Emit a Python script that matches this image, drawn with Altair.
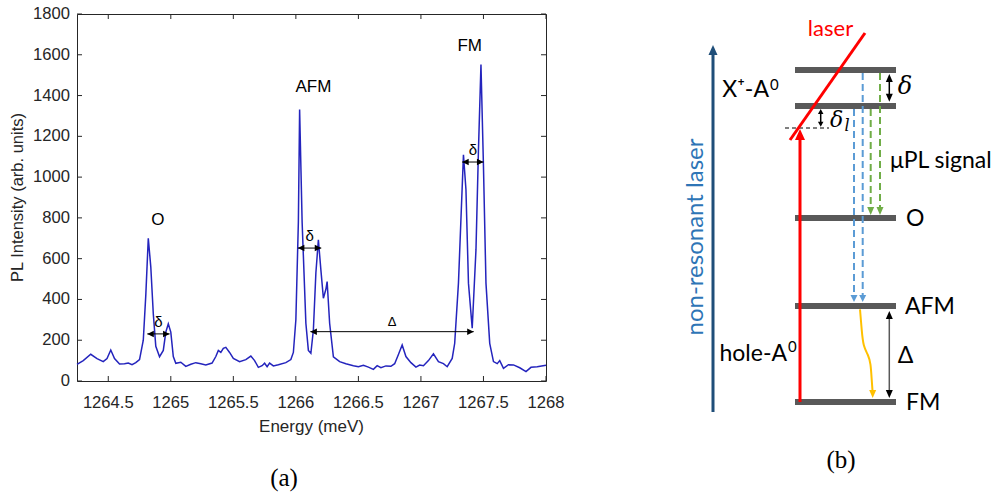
import altair as alt
import pandas as pd

# ---------------- Panel (a): PL spectrum ----------------
ENERGY = [1264.25, 1264.30, 1264.36, 1264.41, 1264.46, 1264.49, 1264.52, 1264.55, 1264.59, 1264.63,
          1264.66, 1264.69, 1264.72, 1264.75, 1264.78, 1264.80, 1264.82, 1264.84, 1264.86, 1264.88,
          1264.91, 1264.94, 1264.96, 1264.98, 1265.00, 1265.02, 1265.04, 1265.08, 1265.12, 1265.16,
          1265.20, 1265.24, 1265.28, 1265.33, 1265.36, 1265.38, 1265.40, 1265.42, 1265.44, 1265.47,
          1265.50, 1265.55, 1265.60, 1265.64, 1265.67, 1265.70, 1265.73, 1265.75, 1265.77, 1265.79,
          1265.82, 1265.86, 1265.92, 1265.96, 1265.98, 1266.00, 1266.02, 1266.03, 1266.05, 1266.08,
          1266.10, 1266.12, 1266.14, 1266.16, 1266.18, 1266.20, 1266.22, 1266.24, 1266.25, 1266.27,
          1266.30, 1266.35, 1266.40, 1266.46, 1266.50, 1266.54, 1266.58, 1266.62, 1266.65, 1266.68,
          1266.72, 1266.76, 1266.79, 1266.82, 1266.85, 1266.88, 1266.92, 1266.96, 1266.99, 1267.02,
          1267.06, 1267.10, 1267.14, 1267.18, 1267.21, 1267.25, 1267.27, 1267.30, 1267.34, 1267.36,
          1267.38, 1267.41, 1267.44, 1267.46, 1267.48, 1267.50, 1267.52, 1267.55, 1267.58, 1267.61,
          1267.63, 1267.66, 1267.70, 1267.74, 1267.79, 1267.84, 1267.88, 1267.93, 1268.00]
INTENSITY = [82, 100, 131, 110, 95, 110, 152, 110, 83, 85,
             88, 80, 90, 105, 200, 420, 700, 560, 330, 170,
             119, 150, 240, 280, 240, 120, 87, 92, 72, 82,
             90, 85, 79, 88, 120, 150, 140, 160, 165, 140,
             111, 95, 105, 122, 100, 67, 75, 87, 70, 88,
             74, 80, 90, 105, 140, 300, 780, 1331, 780, 283,
             150, 136, 250, 530, 692, 545, 406, 450, 488, 283,
             119, 95, 85, 75, 70, 77, 68, 57, 75, 65,
             74, 72, 85, 130, 177, 120, 90, 68, 78, 75,
             100, 133, 95, 85, 70, 111, 185, 480, 1110, 938,
             480, 259, 643, 1134, 1552, 1052, 480, 185, 95, 85,
             100, 62, 80, 79, 65, 46, 67, 70, 77]

X_TICKS = [1264.5, 1265.0, 1265.5, 1266.0, 1266.5, 1267.0, 1267.5, 1268.0]
Y_TICKS = [0, 200, 400, 600, 800, 1000, 1200, 1400, 1600, 1800]
X_TITLE = "Energy (meV)"
Y_TITLE = "PL Intensity (arb. units)"

PEAK_NAMES = ["O", "AFM", "FM"]
PEAK_NAME_E = [1264.896, 1266.14, 1267.39]
PEAK_NAME_I = [791, 1444, 1644]

SPLIT_NAMES = ["δ", "δ", "Δ", "δ"]
SPLIT_E_FROM = [1264.812, 1266.016, 1266.116, 1267.33]
SPLIT_E_TO = [1264.99, 1266.203, 1267.422, 1267.50]
SPLIT_I = [231, 652, 242, 1074]
SPLIT_NAME_I = [287, 713, 287, 1131]

# ---------------- Panel (b): level scheme (schematic units) ----------------
LEVEL_NAMES = ["X+-A0 upper", "X+-A0 lower", "O", "AFM", "FM"]
LEVEL_Y = [332, 296, 184, 96, 0]
LEVEL_X_FROM = [105, 105, 105, 105, 105]
LEVEL_X_TO = [206, 206, 206, 206, 206]

PL_COLORS = ["#5b9bd5", "#5b9bd5", "#70ad47", "#70ad47"]
PL_X = [164, 172.7, 180.7, 190]
PL_Y_FROM = [293, 329, 293, 329]
PL_Y_TO = [100, 100, 187, 187]

RELAX_X = [170, 171.7, 173.3, 178.3, 180.7, 181.7, 182.7, 182.7]
RELAX_Y = [92.7, 72, 55.3, 47, 38.7, 22, 8.7, 4]

B_TEXT = ["X⁺-A", "hole-A", "μPL signal", "O", "AFM", "FM", "Δ"]
B_TEXT_X = [79, 97, 200, 216, 215, 216, 215.5]
B_TEXT_Y = [312.5, 48, 241, 183, 95.5, -0.5, 46.5]
B_TEXT_ALIGN = ["right", "right", "left", "left", "left", "left", "center"]
B_SUP = ["0", "0"]
B_SUP_X = [80, 98]
B_SUP_Y = [317, 55]

# ---------------- helpers ----------------
FONT_A = "Liberation Sans"
FONT_B = "Lato"
INK = "#262626"
W, H = 469, 367

sxA = alt.Scale(domain=[1264.25, 1268], nice=False, zero=False)
syA = alt.Scale(domain=[0, 1800], nice=False, zero=False)
sxB = alt.Scale(domain=[0, 300], range=[613, 913], nice=False, zero=False)
syB = alt.Scale(domain=[0, 400], range=[388, -12], nice=False, zero=False)


def XA(f):
    return alt.X(f, type="quantitative", scale=sxA, axis=None)


def YA(f):
    return alt.Y(f, type="quantitative", scale=syA, axis=None)


def XB(f):
    return alt.X(f, type="quantitative", scale=sxB, axis=None)


def YB(f):
    return alt.Y(f, type="quantitative", scale=syB, axis=None)


def head_path(direction, length, width):
    r = 5.0
    L = length / r
    Wd = width / 2.0 / r
    if direction == "up":
        return f"M0,0 L{-Wd},{L} L{Wd},{L} Z"
    if direction == "down":
        return f"M0,0 L{-Wd},{-L} L{Wd},{-L} Z"
    if direction == "left":
        return f"M0,0 L{L},{-Wd} L{L},{Wd} Z"
    return f"M0,0 L{-L},{-Wd} L{-L},{Wd} Z"


def heads(df, xf, yf, direction, color, length, width, X, Y):
    return alt.Chart(df).mark_point(
        shape=head_path(direction, length, width), size=100, filled=True,
        opacity=1, color=color, strokeWidth=0
    ).encode(x=X(xf), y=Y(yf))


# ---------------- Panel (a) layers ----------------
spec = pd.DataFrame({"E": ENERGY, "I": INTENSITY})
line = alt.Chart(spec).mark_line(color="#2424bd", strokeWidth=1.5).encode(
    x=XA("E"), y=YA("I"))

xt = pd.DataFrame({"E": X_TICKS, "lab": [f"{v:g}" for v in X_TICKS]})
yt = pd.DataFrame({"I": Y_TICKS, "lab": [f"{v:g}" for v in Y_TICKS]})
tick_bottom = alt.Chart(xt).mark_rule(color=INK, strokeWidth=1).encode(
    x=XA("E"), y=alt.value(H), y2=alt.value(H - 5))
tick_top = alt.Chart(xt).mark_rule(color=INK, strokeWidth=1).encode(
    x=XA("E"), y=alt.value(0), y2=alt.value(5))
tick_left = alt.Chart(yt).mark_rule(color=INK, strokeWidth=1).encode(
    y=YA("I"), x=alt.value(0), x2=alt.value(5))
tick_right = alt.Chart(yt).mark_rule(color=INK, strokeWidth=1).encode(
    y=YA("I"), x=alt.value(W), x2=alt.value(W - 5))
xlab = alt.Chart(xt).mark_text(font=FONT_A, fontSize=16.6, color=INK, align="center",
                               baseline="middle").encode(
    x=XA("E"), y=alt.value(H + 22), text="lab:N")
ylab = alt.Chart(yt).mark_text(font=FONT_A, fontSize=16.6, color=INK, align="right",
                               baseline="middle").encode(
    y=YA("I"), x=alt.value(-7), text="lab:N")
xtitle = alt.Chart(pd.DataFrame({"t": [X_TITLE]})).mark_text(
    font=FONT_A, fontSize=17, color=INK, align="center", baseline="middle").encode(
    x=alt.value(W / 2), y=alt.value(H + 46), text="t:N")
ytitle = alt.Chart(pd.DataFrame({"t": [Y_TITLE]})).mark_text(
    font=FONT_A, fontSize=16.5, color=INK, align="center", baseline="middle", angle=270).encode(
    x=alt.value(-59), y=alt.value(H / 2), text="t:N")

peaks = pd.DataFrame({"name": PEAK_NAMES, "E": PEAK_NAME_E, "I": PEAK_NAME_I})
peak_text = alt.Chart(peaks).mark_text(font=FONT_A, fontSize=17, color="black",
                                       baseline="middle", align="center").encode(
    x=XA("E"), y=YA("I"), text="name:N")

splits = pd.DataFrame({"name": SPLIT_NAMES, "E1": SPLIT_E_FROM, "E2": SPLIT_E_TO,
                       "I": SPLIT_I, "IL": SPLIT_NAME_I})
splits["Em"] = (splits["E1"] + splits["E2"]) / 2
split_rule = alt.Chart(splits).mark_rule(color="black", strokeWidth=1).encode(
    x=XA("E1"), x2="E2", y=YA("I"))
split_l = heads(splits, "E1", "I", "left", "black", 6.5, 6.5, XA, YA)
split_r = heads(splits, "E2", "I", "right", "black", 6.5, 6.5, XA, YA)
split_text_d = alt.Chart(splits[splits["name"] == "δ"]).mark_text(
    font=FONT_A, fontSize=15, color="black", baseline="middle").encode(
    x=XA("Em"), y=YA("IL"), text="name:N")
split_text_D = alt.Chart(splits[splits["name"] == "Δ"]).mark_text(
    font=FONT_A, fontSize=13, color="black", baseline="middle").encode(
    x=XA("Em"), y=YA("IL"), text="name:N")

panelA = alt.layer(tick_bottom, tick_top, tick_left, tick_right, xlab, ylab, xtitle, ytitle,
                   line, split_rule, split_l, split_r, split_text_d, split_text_D, peak_text)

# ---------------- Panel (b) layers ----------------
levels = pd.DataFrame({"name": LEVEL_NAMES, "y": LEVEL_Y, "x1": LEVEL_X_FROM, "x2": LEVEL_X_TO})
level_rule = alt.Chart(levels).mark_rule(color="#595959", strokeWidth=6).encode(
    x=XB("x1"), x2="x2", y=YB("y"))

pump = pd.DataFrame({"x": [23], "y1": [-10], "y2": [350], "tip": [357]})
pump_rule = alt.Chart(pump).mark_rule(color="#1f4e79", strokeWidth=3).encode(
    x=XB("x"), y=YB("y1"), y2="y2")
pump_head = heads(pump, "x", "tip", "up", "#1f4e79", 10, 9, XB, YB)

red_up = pd.DataFrame({"x": [110], "y1": [0], "y2": [266], "tip": [273]})
red_rule = alt.Chart(red_up).mark_rule(color="#ff0000", strokeWidth=3).encode(
    x=XB("x"), y=YB("y1"), y2="y2")
red_head = heads(red_up, "x", "tip", "up", "#ff0000", 11, 10, XB, YB)

laser = pd.DataFrame({"x1": [100], "y1": [262], "x2": [175], "y2": [369]})
laser_rule = alt.Chart(laser).mark_rule(color="#ff0000", strokeWidth=3).encode(
    x=XB("x1"), y=YB("y1"), x2="x2", y2="y2")

virt = pd.DataFrame({"x1": [95], "x2": [139], "y": [274]})
virt_rule = alt.Chart(virt).mark_rule(color="black", strokeWidth=1, strokeDash=[4, 3]).encode(
    x=XB("x1"), x2="x2", y=YB("y"))

pl = pd.DataFrame({"x": PL_X, "y1": PL_Y_FROM, "y2": PL_Y_TO, "c": PL_COLORS})
pl["y2s"] = pl["y2"] + 6
pl_rule = alt.Chart(pl).mark_rule(strokeWidth=2, strokeDash=[7, 4]).encode(
    x=XB("x"), y=YB("y1"), y2="y2s", color=alt.Color("c:N", scale=None))
pl_head_b = heads(pl[pl["c"] == "#5b9bd5"], "x", "y2", "down", "#5b9bd5", 7, 7, XB, YB)
pl_head_g = heads(pl[pl["c"] == "#70ad47"], "x", "y2", "down", "#70ad47", 8, 7, XB, YB)

dbl = pd.DataFrame({"x": [130.7, 199.3, 199.3], "top": [293, 328, 91], "bot": [275.3, 300.3, 4],
                    "c": ["black", "black", "#595959"]})
dbl["t2"] = dbl["top"] - 3
dbl["b2"] = dbl["bot"] + 3
dbl_rule = alt.Chart(dbl).mark_rule(strokeWidth=1.5).encode(
    x=XB("x"), y=YB("b2"), y2="t2", color=alt.Color("c:N", scale=None))
dbl_small = dbl.iloc[[0]]
dbl_big = dbl.iloc[[1, 2]]
dbl_h1 = heads(dbl_small, "x", "top", "up", "black", 5, 5.5, XB, YB)
dbl_h2 = heads(dbl_small, "x", "bot", "down", "black", 5, 5.5, XB, YB)
dbl_h3 = heads(dbl_big, "x", "top", "up", "black", 8, 7, XB, YB)
dbl_h4 = heads(dbl_big, "x", "bot", "down", "black", 8, 7, XB, YB)

relax = pd.DataFrame({"x": RELAX_X, "y": RELAX_Y, "o": list(range(len(RELAX_X)))})
relax_line = alt.Chart(relax.iloc[:-1]).mark_line(color="#ffc000", strokeWidth=2,
                                                  interpolate="basis").encode(
    x=XB("x"), y=YB("y"), order="o:Q")
relax_head = heads(relax.iloc[[-1]], "x", "y", "down", "#ffc000", 8, 7, XB, YB)

btxt = pd.DataFrame({"t": B_TEXT, "x": B_TEXT_X, "y": B_TEXT_Y, "a": B_TEXT_ALIGN})
btxt_layers = []
for al in ["left", "right", "center"]:
    sub = btxt[btxt["a"] == al]
    btxt_layers.append(alt.Chart(sub).mark_text(font=FONT_B, fontSize=23, color="black",
                                                align=al, baseline="middle").encode(
        x=XB("x"), y=YB("y"), text="t:N"))
sup_txt = alt.Chart(pd.DataFrame({"t": B_SUP, "x": B_SUP_X, "y": B_SUP_Y})).mark_text(
    font=FONT_B, fontSize=15, color="black", align="left", baseline="middle").encode(
    x=XB("x"), y=YB("y"), text="t:N")

laser_txt = alt.Chart(pd.DataFrame({"t": ["laser"], "x": [140.5], "y": [373]})).mark_text(
    font=FONT_B, fontSize=22, color="#ff0000", baseline="middle").encode(
    x=XB("x"), y=YB("y"), text="t:N")
nonres_txt = alt.Chart(pd.DataFrame({"t": ["non-resonant laser"], "x": [5.5], "y": [165]})).mark_text(
    font=FONT_B, fontSize=24, color="#2e75b6", baseline="middle", angle=270).encode(
    x=XB("x"), y=YB("y"), text="t:N")
delta_txt = alt.Chart(pd.DataFrame({"t": ["δ", "δ"], "x": [215, 146.5], "y": [315, 282],
                                    "s": [24, 22]})).mark_text(
    font="DejaVu Serif", fontStyle="italic", color="black", baseline="middle").encode(
    x=XB("x"), y=YB("y"), text="t:N", size=alt.Size("s:Q", scale=None))
sub_txt = alt.Chart(pd.DataFrame({"t": ["l"], "x": [157], "y": [276]})).mark_text(
    font="DejaVu Serif", fontStyle="italic", fontSize=16, color="black", baseline="middle").encode(
    x=XB("x"), y=YB("y"), text="t:N")
caps = alt.Chart(pd.DataFrame({"t": ["(a)", "(b)"], "x": [-406, 151], "y": [-76, -58]})).mark_text(
    font="Liberation Serif", fontSize=25, color="black", baseline="middle").encode(
    x=XB("x"), y=YB("y"), text="t:N")

panelB = alt.layer(level_rule, pump_rule, pump_head, pl_rule, pl_head_b, pl_head_g,
                   dbl_rule, dbl_h1, dbl_h2, dbl_h3, dbl_h4, relax_line, relax_head,
                   virt_rule, red_rule, red_head, laser_rule, *btxt_layers, sup_txt, laser_txt,
                   nonres_txt, delta_txt, sub_txt, caps)

chart = alt.layer(panelA, panelB).resolve_scale(
    x="independent", y="independent"
).properties(
    width=W, height=H,
    padding={"left": 77, "top": 14, "right": 448, "bottom": 114},
    autosize=alt.AutoSizeParams(type="none"),
    background="white",
).configure_view(stroke=INK, strokeWidth=1)

chart.save("out.html", embed_options={"renderer": "svg", "actions": False})
